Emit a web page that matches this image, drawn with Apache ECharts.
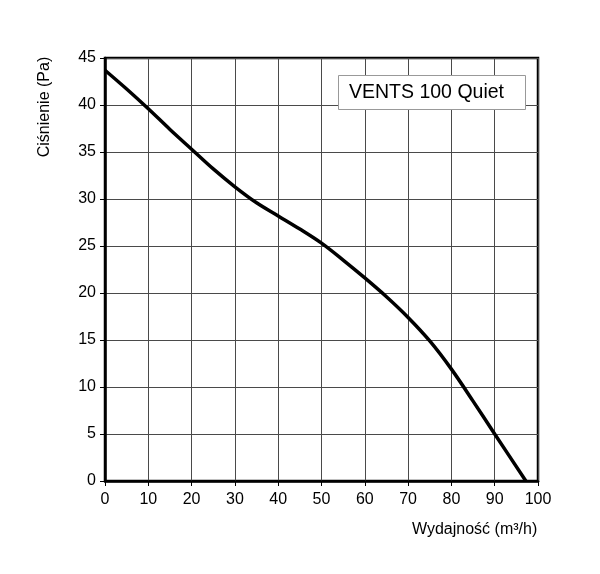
<!DOCTYPE html>
<html>
<head>
<meta charset="utf-8">
<script src="https://cdn.jsdelivr.net/npm/echarts@6/dist/echarts.min.js"></script>
<style>html,body{margin:0;padding:0;background:#fff}#c{width:600px;height:574px}</style>
</head>
<body>
<div id="c"></div>
<script>
const flow = [0, 5, 10, 15, 20, 25, 30, 35, 40, 45, 50, 55, 60, 65, 70, 75, 80, 85, 90, 97.2];
const pressure = [43.7, 41.7, 39.6, 37.4, 35.3, 33.2, 31.3, 29.6, 28.2, 26.8, 25.3, 23.5, 21.6, 19.6, 17.4, 14.9, 11.9, 8.5, 5.0, 0];
const seriesName = 'VENTS 100 Quiet';
const xName = 'Wydajność (m³/h)';
const yName = 'Ciśnienie (Pa)';

const chart = echarts.init(document.getElementById('c'), null, {renderer: 'canvas'});
const font = 'Liberation Sans, Arial, sans-serif';
chart.setOption({
  animation: false,
  backgroundColor: '#fff',
  title: {
    text: seriesName,
    left: 338, top: 75,
    backgroundColor: '#fff',
    borderColor: '#999', borderWidth: 1,
    padding: [7, 22, 7, 11],
    textStyle: {fontFamily: font, fontSize: 19.5, lineHeight: 21, fontWeight: 'normal', color: '#000'}
  },
  grid: {left: 105, top: 58, width: 433, height: 423, show: true, borderColor: '#000', borderWidth: 2.5, backgroundColor: 'transparent'},
  xAxis: {
    type: 'value', min: 0, max: 100, interval: 10,
    axisLine: {show: true, onZero: false, lineStyle: {color: '#000', width: 2.5}},
    axisTick: {show: true, length: 5, lineStyle: {color: '#000', width: 1}},
    axisLabel: {margin: 11, fontFamily: font, fontSize: 16, color: '#000'},
    splitLine: {show: true, lineStyle: {color: '#4a4a4a', width: 1}}
  },
  yAxis: {
    type: 'value', min: 0, max: 45, interval: 5,
    axisLine: {show: true, lineStyle: {color: '#000', width: 2.5}},
    axisTick: {show: true, length: 5, lineStyle: {color: '#000', width: 1}},
    axisLabel: {margin: 9, fontFamily: font, fontSize: 16, color: '#000'},
    splitLine: {show: true, lineStyle: {color: '#4a4a4a', width: 1}}
  },
  graphic: [
    {type: 'text', left: 412, top: 522, style: {text: xName, font: '16px ' + font, fill: '#000'}},
    {type: 'text', x: 45, y: 107, rotation: Math.PI / 2, style: {text: yName, font: '16px ' + font, fill: '#000', align: 'center', verticalAlign: 'middle'}}
  ],
  series: [{
    type: 'line', name: seriesName,
    data: flow.map((f, i) => [f, pressure[i]]),
    smooth: 0.35, symbol: 'none',
    lineStyle: {color: '#000', width: 3.5}
  }]
});
</script>
</body>
</html>
